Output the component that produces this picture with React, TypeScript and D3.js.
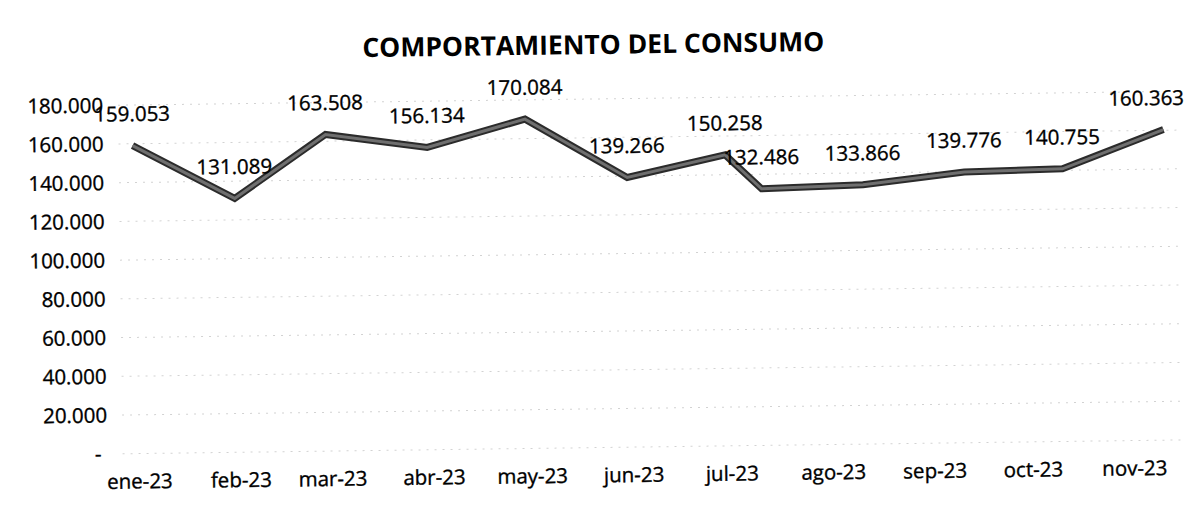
import React, { useEffect, useRef } from 'react';
import * as d3 from 'd3';

// fechas de lectura (julio tiene dos lecturas)
const fechas = [
  '2023-01-01', '2023-02-01', '2023-03-01', '2023-04-01', '2023-05-01', '2023-06-01',
  '2023-07-01', '2023-07-12', '2023-08-12', '2023-09-12', '2023-10-12', '2023-11-12',
];
const consumo = [159053, 131089, 163508, 156134, 170084, 139266, 150258, 132486, 133866, 139776, 140755, 160363];
const meses = ['ene-23', 'feb-23', 'mar-23', 'abr-23', 'may-23', 'jun-23', 'jul-23', 'ago-23', 'sep-23', 'oct-23', 'nov-23'];
const marcasY = [0, 20000, 40000, 60000, 80000, 100000, 120000, 140000, 160000, 180000];

const W = 1188;
const H = 508;
const FUENTE = '"Open Sans", "Noto Sans", sans-serif';

export default function App() {
  const ref = useRef<SVGSVGElement>(null);

  useEffect(() => {
    const svg = d3.select(ref.current);
    svg.selectAll('*').remove();

    const parse = d3.timeParse('%Y-%m-%d');
    const datos = fechas.map((f, i) => ({ fecha: parse(f) as Date, valor: consumo[i] }));

    const x = d3
      .scaleTime()
      .domain(d3.extent(datos, d => d.fecha) as [Date, Date])
      .range([134, 1165]);
    const y = d3.scaleLinear().domain([0, 180000]).range([447.6, 99]);

    const es = d3.formatLocale({ decimal: ',', thousands: '.', grouping: [3], currency: ['$', ''] });
    const miles = es.format(',.0f');
    const fmt = (v: number) => (v === 0 ? '-' : miles(v));

    // el escaneo está ligeramente girado
    const g = svg.append('g').attr('transform', 'rotate(-0.75 594 254)');

    g.append('text')
      .attr('x', 596)
      .attr('y', 54)
      .attr('text-anchor', 'middle')
      .attr('font-family', FUENTE)
      .attr('font-weight', 700)
      .attr('font-size', 26.5)
      .attr('fill', '#000')
      .text('COMPORTAMIENTO DEL CONSUMO');

    // líneas de división
    g.append('g')
      .selectAll('line')
      .data(marcasY)
      .join('line')
      .attr('x1', 120)
      .attr('x2', 1178)
      .attr('y1', d => y(d))
      .attr('y2', d => y(d))
      .attr('stroke', '#d2d2d2')
      .attr('stroke-width', 1)
      .attr('stroke-dasharray', '2 6');

    const texto = (sel: d3.Selection<any, any, any, any>) =>
      sel
        .attr('font-family', FUENTE)
        .attr('font-size', 20.5)
        .attr('fill', '#000')
        .attr('stroke', '#000')
        .attr('stroke-width', 0.35);

    // eje Y
    g.append('g')
      .selectAll('text')
      .data(marcasY)
      .join('text')
      .attr('x', d => (d === 0 ? 99 : 105))
      .attr('y', d => y(d))
      .attr('dy', '0.35em')
      .attr('text-anchor', 'end')
      .call(texto)
      .text(d => fmt(d));

    // eje X
    const inicio = x.domain()[0];
    const ticks = d3.timeMonth.range(inicio, d3.timeMonth.offset(inicio, meses.length));
    g.append('g')
      .selectAll('text')
      .data(ticks)
      .join('text')
      .attr('x', d => x(d) + 3)
      .attr('y', 482.5)
      .attr('text-anchor', 'middle')
      .call(texto)
      .text((d, i) => meses[i]);

    // línea de consumo
    const linea = d3
      .line<{ fecha: Date; valor: number }>()
      .x(d => x(d.fecha))
      .y(d => y(d.valor));

    g.append('path')
      .datum(datos)
      .attr('d', linea)
      .attr('fill', 'none')
      .attr('stroke', '#2b2b2b')
      .attr('stroke-width', 7)
      .attr('stroke-linejoin', 'miter');
    g.append('path')
      .datum(datos)
      .attr('d', linea)
      .attr('fill', 'none')
      .attr('stroke', '#6f6f6f')
      .attr('stroke-width', 3)
      .attr('stroke-linejoin', 'miter');

    // etiquetas de datos
    const etiquetas = g
      .append('g')
      .selectAll('text')
      .data(datos)
      .join('text')
      .attr('x', d => x(d.fecha))
      .attr('y', d => y(d.valor) - 24.5)
      .attr('text-anchor', 'middle')
      .call(texto)
      .text(d => fmt(d.valor));

    // como Excel, mantener las etiquetas dentro del área del gráfico
    etiquetas.each(function (d) {
      const t = this as SVGTextElement;
      const w = t.getComputedTextLength();
      const cx = x(d.fecha);
      if (cx + w / 2 > W - 2) d3.select(t).attr('x', W - 2 - w / 2);
    });
  }, []);

  return (
    <svg
      ref={ref}
      width={W}
      height={H}
      style={{ position: 'absolute', left: 0, top: 0, background: '#fff' }}
    />
  );
}
